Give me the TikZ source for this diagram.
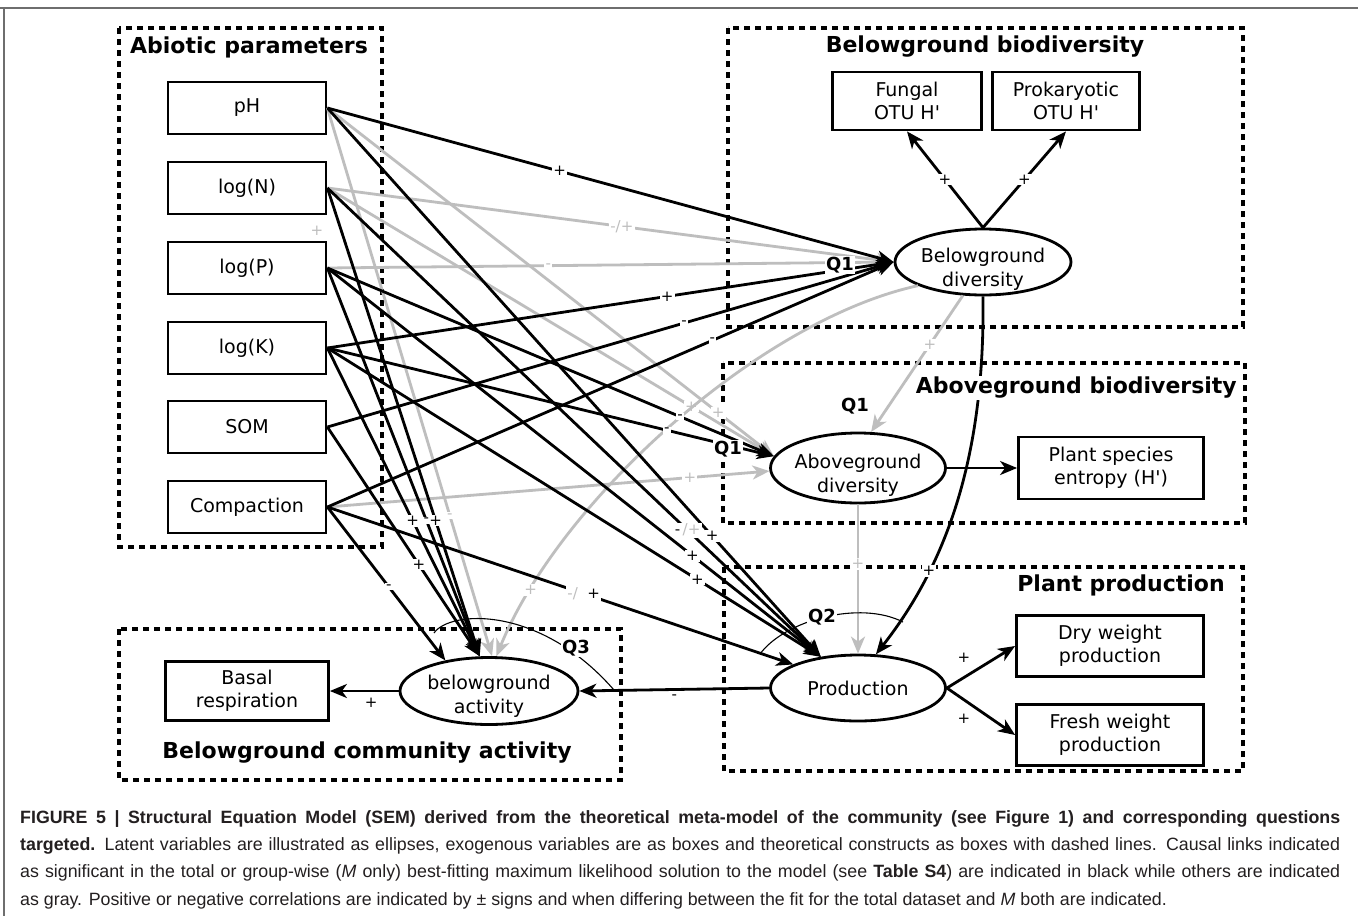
\documentclass[tikz,border=0pt]{standalone}
\usepackage{fontspec}
\setmainfont{DejaVu Sans}[Ligatures=TeXOff]
\newfontfamily\capfont{Liberation Sans}
\usetikzlibrary{arrows.meta,shapes.geometric}
\definecolor{lg}{RGB}{190,190,190}
\definecolor{captxt}{RGB}{35,31,32}
\definecolor{framec}{RGB}{110,110,110}
\tikzset{
  nodebox/.style={draw, line width=2.8pt, minimum width=158pt, minimum height=52pt, inner sep=0pt, align=center, font=\fontsize{19}{23}\selectfont},
  latent/.style={draw, ellipse, line width=2.8pt, minimum width=176pt, minimum height=66pt, inner sep=0pt},
  etext/.style={align=center, font=\fontsize{19}{24}\selectfont, inner sep=0pt},
  grp/.style={line width=3.2pt, dash pattern=on 6pt off 5pt},
  gtitle/.style={font=\bfseries\fontsize{22}{26}\selectfont, fill=white, inner sep=1pt},
  conn/.style={line width=2.8pt, -{Stealth[length=17pt,width=14pt,inset=5pt]}},
  blk/.style={conn, draw=black},
  gry/.style={conn, draw=lg},
  sgn/.style={fill=white, inner sep=1.2pt, font=\fontsize{15}{15}\selectfont, text=black},
  gsgn/.style={sgn, text=lg},
  qlab/.style={fill=white, inner sep=1pt, font=\bfseries\fontsize{18}{18}\selectfont},
  qarc/.style={line width=1.1pt},
}
\begin{document}
\begin{tikzpicture}[x=1pt,y=-1pt]
\useasboundingbox (0,0) rectangle (1358,916);
\fill[white] (0,0) rectangle (1358,916);
\draw[framec, line width=1.3pt] (0,8) -- (1358,8);
\draw[framec, line width=1.3pt] (4,8) -- (4,916);

% construct boxes
\draw[grp] (119,28) rectangle (382,547);
\draw[grp] (728,28) rectangle (1243,327);
\draw[grp] (723,363) rectangle (1245,523);
\draw[grp] (724,567) rectangle (1243,771);
\draw[grp] (119,629) rectangle (621,780);

% abiotic nodes
\node[nodebox] (ph) at (247,108) {pH};
\node[nodebox] (logn) at (247,188) {log(N)};
\node[nodebox] (logp) at (247,268) {log(P)};
\node[nodebox] (logk) at (247,348) {log(K)};
\node[nodebox] (som) at (247,427) {SOM};
\node[nodebox] (comp) at (247,507) {Compaction};

% belowground biodiversity
\node[nodebox, minimum width=149pt, minimum height=58pt] (fung) at (907,101) {Fungal\\OTU H'};
\node[nodebox, minimum width=147pt, minimum height=58pt] (prok) at (1066,101) {Prokaryotic\\OTU H'};
\node[latent] (bd) at (983,262) {};
\node[etext] (bdt) at (983,269) {Belowground\\diversity};

% aboveground
\node[latent, minimum width=175pt, minimum height=70pt] (ad) at (858,468) {};
\node[etext] (adt) at (858,475) {Aboveground\\diversity};
\node[nodebox, minimum width=185pt, minimum height=62pt] (plant) at (1111,468) {Plant species\\entropy (H')};

% production
\node[latent, minimum width=175pt, minimum height=66pt] (prod) at (858,688) {};
\node[etext] (prodt) at (858,688) {Production};
\node[nodebox, minimum width=187pt, minimum height=61pt] (dry) at (1110,646) {Dry weight\\production};
\node[nodebox, minimum width=187pt, minimum height=61pt] (fresh) at (1110,735) {Fresh weight\\production};

% activity
\node[latent, minimum width=178pt, minimum height=67pt] (act) at (489,691) {};
\node[etext] (actt) at (489,696) {belowground\\activity};
\node[nodebox, minimum width=163pt, minimum height=59pt] (basal) at (247,691) {Basal\\respiration};

% gray links
\draw[gry] (logn.east) -- (bd.west) node[gsgn,pos=0.52]{-/+};
\draw[gry] (logp.east) -- (bd.west) node[gsgn,pos=0.39]{-};
\draw[gry] (ph.east) -- (ad.172) node[gsgn,pos=0.875]{+};
\draw[gry] (logn.east) -- (ad.172) node[gsgn,pos=0.815]{+};
\draw[gry] (comp.east) -- (ad.182) node[gsgn,pos=0.82]{+};
\draw[gry] (ph.east) -- (act.85) node[gsgn,pos=0.744]{-};
\draw[gry] (bd.239) -- (ad.70) node[gsgn,pos=0.36]{+};
\draw[gry] (bd.200) .. controls (760,320) and (560,500) .. (act.78) node[gsgn,pos=0.86]{+};
\draw[gry] (ad.south) -- (prod.north) node[gsgn,pos=0.4]{+};

% black links to belowground diversity
\draw[blk] (ph.east) -- (bd.west) node[sgn,pos=0.41]{+};
\draw[blk] (logk.east) -- (bd.west) node[sgn,pos=0.60]{+};
\draw[blk] (som.east) -- (bd.west) node[sgn,pos=0.63]{-};
\draw[blk] (comp.east) -- (bd.west) node[sgn,pos=0.68]{-};
% to aboveground diversity
\draw[blk] (logp.east) -- (ad.172) node[sgn,pos=0.79]{-};
\draw[blk] (logk.east) -- (ad.172) node[sgn,pos=0.76]{-};
% to belowground activity
\draw[blk] (logn.east) -- (act.105) node[sgn,pos=0.71]{+};
\draw[blk] (logp.east) -- (act.105) node[sgn,pos=0.65]{-};
\draw[blk] (logk.east) -- (act.105) node[sgn,pos=0.56]{+};
\draw[blk] (som.east) -- (act.105) node[sgn,pos=0.60]{+};
\draw[blk] (comp.east) -- (act.145) node[sgn,pos=0.52]{-};
% to production
\draw[blk] (ph.east) -- (prod.140) node[sgn,pos=0.78]{+};
\draw[blk] (logn.east) -- (prod.140) node[sgn,pos=0.73]{-\,\textcolor{lg}{/+}};
\draw[blk] (logp.east) -- (prod.140) node[sgn,pos=0.74]{+};
\draw[blk] (logk.east) -- (prod.140) node[sgn,pos=0.75]{+};
\draw[blk] (comp.east) -- (prod.160) node[sgn,pos=0.55]{\textcolor{lg}{-/}\ \ +};

% other links
\draw[blk] (bd.south) .. controls (985,450) and (950,560) .. (prod.62) node[sgn,pos=0.72]{+};
\draw[blk] (bd.north) -- (fung.south) node[sgn,pos=0.5]{+};
\draw[blk] (bd.north) -- (prok.south) node[sgn,pos=0.5]{+};
\draw[blk] (ad.east) -- (plant.west);
\draw[blk] (prod.west) -- (act.east) node[sgn,pos=0.5,below=3pt]{-};
\draw[blk] (prod.east) -- (dry.west) node[sgn,pos=0.25,above=12pt]{+};
\draw[blk] (prod.east) -- (fresh.west) node[sgn,pos=0.25,below=12pt]{+};
\draw[blk] (act.west) -- (basal.east) node[sgn,pos=0.4,below=4pt]{+};

% question arcs and labels
\draw[qarc] (434,633) .. controls (450,610) and (540,605) .. (614,690);
\node[qlab] (q3) at (576,648) {Q3};
\draw[qarc] (760,654) .. controls (785,620) and (860,600) .. (903,622);
\node[qlab] (q2) at (822,617) {Q2};
\node[qlab] (q1a) at (840,265) {Q1};
\node[qlab] (q1b) at (728,449) {Q1};
\node[qlab] (q1c) at (855,406) {Q1};
\node[gsgn] (lone) at (317,231) {+};

% group titles
\node[gtitle] (tabio) at (249,47) {Abiotic parameters};
\node[gtitle] (tbelow) at (985,47) {Belowground biodiversity};
\node[gtitle, anchor=east] (tabove) at (1238,388) {Aboveground biodiversity};
\node[gtitle] (tprod) at (1121,585) {Plant production};
\node[gtitle] (tact) at (367,753) {Belowground community activity};

% caption
\node[anchor=north west, inner sep=0pt, text=captxt, align=left,
      font=\capfont\fontsize{17.8}{27.3}\selectfont] (cap) at (20,810) {%
\makebox[1320pt][s]{\bfseries FIGURE 5 | Structural Equation Model (SEM) derived from the theoretical meta-model of the community (see Figure 1) and corresponding questions}\\
\makebox[1320pt][s]{\textbf{targeted.} Latent variables are illustrated as ellipses, exogenous variables are as boxes and theoretical constructs as boxes with dashed lines. Causal links indicated}\\
\makebox[1320pt][s]{as significant in the total or group-wise (\textit{M} only) best-fitting maximum likelihood solution to the model (see \textbf{Table S4}) are indicated in black while others are indicated}\\
as gray. Positive or negative correlations are indicated by ± signs and when differing between the fit for the total dataset and \textit{M} both are indicated.};
\end{tikzpicture}
\end{document}
